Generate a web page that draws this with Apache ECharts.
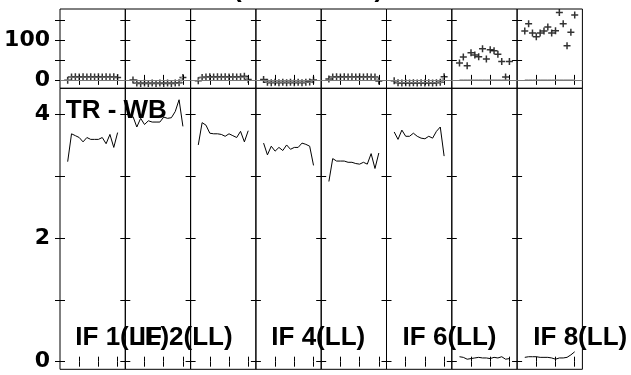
<!DOCTYPE html>
<html>
<head>
<meta charset="utf-8">
<script src="https://cdn.jsdelivr.net/npm/echarts@6/dist/echarts.min.js"></script>
<style>html,body{margin:0;padding:0;background:#fff}#c{width:631px;height:375px}</style>
</head>
<body>
<div id="c"></div>
<script>
// channel numbers (x) shared by all IF panels
var channels = [2,3,4,5,6,7,8,9,10,11,12,13,14,15];
var panelLabels = ['IF 1(LL)','IF 2(LL)','','IF 4(LL)','','IF 6(LL)','','IF 8(LL)'];
// top panel: residual crosses per IF
var resid1 = [-1, 7, 8, 7, 8, 7, 8, 7, 8, 7, 8, 7, 8, 6];
var resid2 = [0, -8, -9, -8, -9, -8, -9, -8, -9, -8, -9, -8, -7, 6];
var resid3 = [-2, 6, 7, 8, 7, 8, 7, 8, 7, 8, 7, 8, 9, 1];
var resid4 = [1, -6, -7, -6, -7, -6, -7, -6, -7, -6, -7, -6, -5, 0];
var resid5 = [2, 7, 8, 7, 8, 7, 8, 7, 8, 7, 8, 7, 7, -3];
var resid6 = [-2, -7, -8, -7, -8, -7, -8, -7, -8, -7, -8, -7, -6, 8];
var resid7 = [42, 57, 35, 68, 62, 58, 78, 52, 75, 73, 64, 46, 7, 46];
var resid8 = [122, 140, 117, 108, 117, 122, 132, 117, 123, 168, 140, 85, 119, 162];
// top panel: gray step model per IF (IF 7, 8 flat at zero)
var model1 = [0, 7, 7, 7, 7, 7, 7, 7, 7, 7, 7, 7, 7, 7];
var model2 = [0, -8, -8, -8, -8, -8, -8, -8, -8, -8, -8, -8, -8, 6];
var model3 = [0, 7, 7, 7, 7, 7, 7, 7, 7, 7, 7, 7, 7, 0];
var model4 = [0, -6, -6, -6, -6, -6, -6, -6, -6, -6, -6, -6, -6, 0];
var model5 = [0, 7, 7, 7, 7, 7, 7, 7, 7, 7, 7, 7, 7, 0];
var model6 = [0, -7, -7, -7, -7, -7, -7, -7, -7, -7, -7, -7, -7, 6];
var model7 = [0, 0, 0, 0, 0, 0, 0, 0, 0, 0, 0, 0, 0, 0];
var model8 = [0, 0, 0, 0, 0, 0, 0, 0, 0, 0, 0, 0, 0, 0];
// bottom panel: TR - WB lines per IF
var trwb1 = [3.23, 3.68, 3.65, 3.62, 3.55, 3.62, 3.59, 3.59, 3.59, 3.62, 3.52, 3.67, 3.46, 3.70];
var trwb2 = [3.96, 3.79, 3.93, 3.83, 3.89, 3.87, 3.87, 3.87, 3.95, 3.93, 3.94, 4.04, 4.23, 3.80];
var trwb3 = [3.50, 3.86, 3.82, 3.69, 3.68, 3.68, 3.67, 3.64, 3.68, 3.65, 3.62, 3.72, 3.55, 3.73];
var trwb4 = [3.53, 3.34, 3.48, 3.40, 3.46, 3.41, 3.50, 3.43, 3.46, 3.46, 3.53, 3.51, 3.48, 3.17];
var trwb5 = [2.91, 3.28, 3.24, 3.24, 3.24, 3.22, 3.22, 3.20, 3.19, 3.22, 3.19, 3.36, 3.12, 3.37];
var trwb6 = [3.71, 3.59, 3.74, 3.64, 3.64, 3.69, 3.64, 3.61, 3.60, 3.64, 3.61, 3.72, 3.79, 3.32];
var trwb7 = [0.08, 0.07, 0.04, 0.05, 0.06, 0.07, 0.06, 0.06, 0.05, 0.07, 0.06, 0.08, 0.04, 0.05];
var trwb8 = [0.07, 0.08, 0.08, 0.08, 0.07, 0.07, 0.07, 0.06, 0.04, 0.06, 0.06, 0.07, 0.11, 0.16];
var topTicks = [0, 50, 100, 150];
var topTickLabels = [0, 100];
var botTicks = [0, 1, 2, 3, 4];
var botTickLabels = [0, 2, 4];
var xTicks = [5, 10, 15];

var resid = [resid1,resid2,resid3,resid4,resid5,resid6,resid7,resid8];
var model = [model1,model2,model3,model4,model5,model6,model7,model8];
var trwb = [trwb1,trwb2,trwb3,trwb4,trwb5,trwb6,trwb7,trwb8];

var L0 = 60, PW = 65.3, TOP_T = 9, TOP_H = 79.3, BOT_T = 88.3, BOT_H = 281;
var X_MIN = 0, X_MAX = 17;
var TOP_MIN = -21, TOP_MAX = 177;
var BOT_MIN = -0.123, BOT_MAX = 4.415;

var grids = [], xAxes = [], yAxes = [], series = [];
function pairs(vals){ return channels.map(function(c,i){ return [c, vals[i]]; }); }
function tick(){ return {show:true, inside:true, length:5, lineStyle:{color:'#000', width:1}}; }

for (var row = 0; row < 2; row++) {
  for (var p = 0; p < 8; p++) {
    var g = row*8 + p;
    var isTop = row === 0;
    grids.push({left: L0 + p*PW, width: PW, top: isTop ? TOP_T : BOT_T, height: isTop ? TOP_H : BOT_H,
      show:true, borderColor:'#000', borderWidth:1, backgroundColor:'transparent'});
    ['bottom','top'].forEach(function(pos){
      xAxes.push({type:'value', gridIndex:g, position:pos, min:X_MIN, max:X_MAX,
        axisLine:{show:false}, splitLine:{show:false},
        axisTick:Object.assign(tick(), {customValues:xTicks}),
        axisLabel:{show:false, customValues:xTicks}});
    });
    ['left','right'].forEach(function(pos){
      var showLab = (pos === 'left' && p === 0);
      var tv = isTop ? topTicks : botTicks;
      yAxes.push({type:'value', gridIndex:g, position:pos,
        min: isTop ? TOP_MIN : BOT_MIN, max: isTop ? TOP_MAX : BOT_MAX,
        axisLine:{show:false}, splitLine:{show:false},
        axisTick:Object.assign(tick(), {customValues:tv}),
        axisLabel:{show:showLab, customValues: isTop ? topTickLabels : botTickLabels,
          margin:10, color:'#000', fontFamily:'DejaVu Sans', fontWeight:'bold', fontSize:22}});
    });
    if (isTop) {
      series.push({type:'line', xAxisIndex:2*g, yAxisIndex:2*g, data:pairs(model[p]), step:'middle',
        showSymbol:false, lineStyle:{color:'#8a8a8a', width:1}, silent:true,
        markLine:{silent:true, symbol:'none', label:{show:false}, lineStyle:{color:'#7a7a7a', width:1, type:'solid'}, data:[{yAxis:0}]}});
      series.push({type:'scatter', xAxisIndex:2*g, yAxisIndex:2*g, data:pairs(resid[p]),
        symbol:'path://M0,5L10,5M5,0L5,10', symbolSize:7,
        itemStyle:{color:'#000', borderColor:'#000', borderWidth:1.5}, silent:true});
    } else {
      series.push({type:'line', xAxisIndex:2*g, yAxisIndex:2*g, data:pairs(trwb[p]),
        showSymbol:false, lineStyle:{color:'#000', width:1}, silent:true});
    }
  }
}

var textFont = 'bold 25px "Liberation Sans", Arial, sans-serif';
var SX = 1.04;
var graphics = [
  {type:'text', x:233, y:-9.7, scaleX:SX, style:{text:'(RESIDUAL)', font:textFont, fill:'#000', verticalAlign:'middle'}},
  {type:'text', x:65.8, y:111, scaleX:SX, style:{text:'TR - WB', font:textFont, fill:'#000', verticalAlign:'middle'}}
];
var labelX = [75.3, 138.7, 0, 271.3, 0, 402.6, 0, 533.3];
panelLabels.forEach(function(t, i){
  if (!t) return;
  graphics.push({type:'text', x:labelX[i], y:338, scaleX:SX, style:{text:t, font:textFont, fill:'#000', verticalAlign:'middle'}});
});

var chart = echarts.init(document.getElementById('c'), null, {renderer:'canvas'});
chart.setOption({animation:false, grid:grids, xAxis:xAxes, yAxis:yAxes, series:series, graphic:graphics});
</script>
</body>
</html>
